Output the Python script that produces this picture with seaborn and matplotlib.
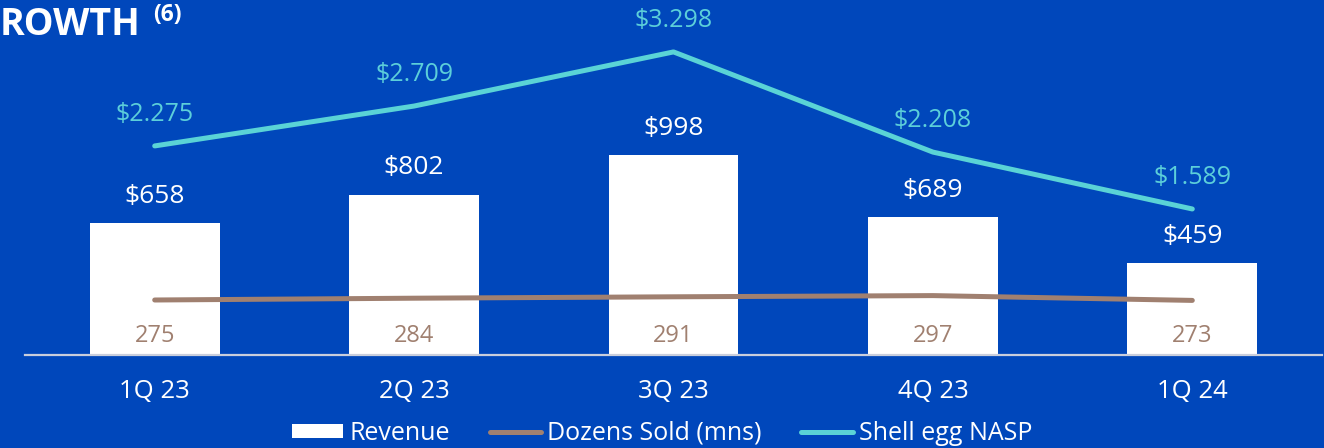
import matplotlib
matplotlib.use("Agg")
import matplotlib.pyplot as plt
import seaborn as sns
import pandas as pd
import numpy as np
from matplotlib.patches import Patch
from matplotlib.lines import Line2D

# Quarterly figures
quarters = ["1Q 23", "2Q 23", "3Q 23", "4Q 23", "1Q 24"]
revenue = [658, 802, 998, 689, 459]          # $ millions
dozens_sold = [275, 284, 291, 297, 273]      # millions of dozens
nasp = [2.275, 2.709, 3.298, 2.208, 1.589]   # $ per dozen

BG = "#0047BB"
WHITE = "#FFFFFF"
BROWN = "#A08070"
CYAN = "#5AD3D6"
CYAN_TXT = "#5CCFDA"
BASE = "#C9CEDC"

sns.set_theme(style="white")
plt.rcParams["font.family"] = ["Open Sans", "DejaVu Sans"]

df = pd.DataFrame({"quarter": quarters, "revenue": revenue,
                   "dozens": dozens_sold, "nasp": nasp})
df["pos"] = np.arange(len(df))

W, H = 1324, 448
fig = plt.figure(figsize=(W / 100, H / 100), dpi=100, facecolor=BG)
ax = fig.add_axes([25 / W, 93 / H, 1297 / W, 355 / H])
ax.set_facecolor(BG)

sns.barplot(data=df, x="pos", y="revenue", color=WHITE, width=0.5,
            saturation=1, edgecolor="none", native_scale=True, ax=ax)
sns.lineplot(data=df, x="pos", y="dozens", color=BROWN, linewidth=3.6,
             solid_capstyle="round", ax=ax, zorder=3)
ax.set_xlim(-0.5, 4.5)
ax.set_ylim(0, 1775)

ax2 = ax.twinx()
sns.lineplot(data=df, x="pos", y="nasp", color=CYAN, linewidth=3.6,
             solid_capstyle="round", ax=ax2, zorder=3)
ax2.set_ylim(0, 355 / 91.9)
ax2.set_xlim(-0.5, 4.5)

for a in (ax, ax2):
    a.set_xlabel("")
    a.set_ylabel("")
    a.set_yticks([])
    for s in ("top", "left", "right", "bottom"):
        a.spines[s].set_visible(False)
ax2.patch.set_visible(False)

ax.spines["bottom"].set_visible(True)
ax.spines["bottom"].set_color(BASE)
ax.spines["bottom"].set_linewidth(1.6)

ax.set_xticks(df["pos"], quarters)
ax.tick_params(axis="x", length=0, pad=17.5, labelsize=18.5, labelcolor=WHITE)

# value labels
for i, (r, d, n) in enumerate(zip(revenue, dozens_sold, nasp)):
    ax.annotate(f"${r}", (i, r), xytext=(0, 19.5), textcoords="offset points",
                ha="center", va="center", fontsize=19, color=WHITE)
    ax.annotate(f"{d}", (i, 0), xytext=(0, 14), textcoords="offset points",
                ha="center", va="center", fontsize=17, color=BROWN)
    ax2.annotate(f"${n:.3f}", (i, n), xytext=(0, 22.5), textcoords="offset points",
                 ha="center", va="center", fontsize=18, color=CYAN_TXT,
                 annotation_clip=False)

# heading
fig.text(0, 1 - 35 / H, "ROWTH", fontsize=27, fontweight="bold",
         color=WHITE, ha="left", va="baseline")
fig.text(153 / W, 1 - 21 / H, "(6)", fontsize=16.5, fontweight="bold",
         color=WHITE, ha="left", va="baseline")

handles = [
    Patch(facecolor=WHITE, edgecolor="none"),
    Line2D([], [], color=BROWN, linewidth=3.6, solid_capstyle="round"),
    Line2D([], [], color=CYAN, linewidth=3.6, solid_capstyle="round"),
]
labels = ["Revenue", "Dozens Sold (mns)", "Shell egg NASP"]
fig.legend(handles, labels, loc="center", bbox_to_anchor=(0.5, 1 - 433 / H),
           ncol=3, frameon=False, fontsize=18, handlelength=2.05,
           handletextpad=0.24, columnspacing=1.6, handleheight=0.5,
           labelcolor=WHITE, borderaxespad=0, borderpad=0)

fig.savefig("out.png", dpi=100, facecolor=BG)
